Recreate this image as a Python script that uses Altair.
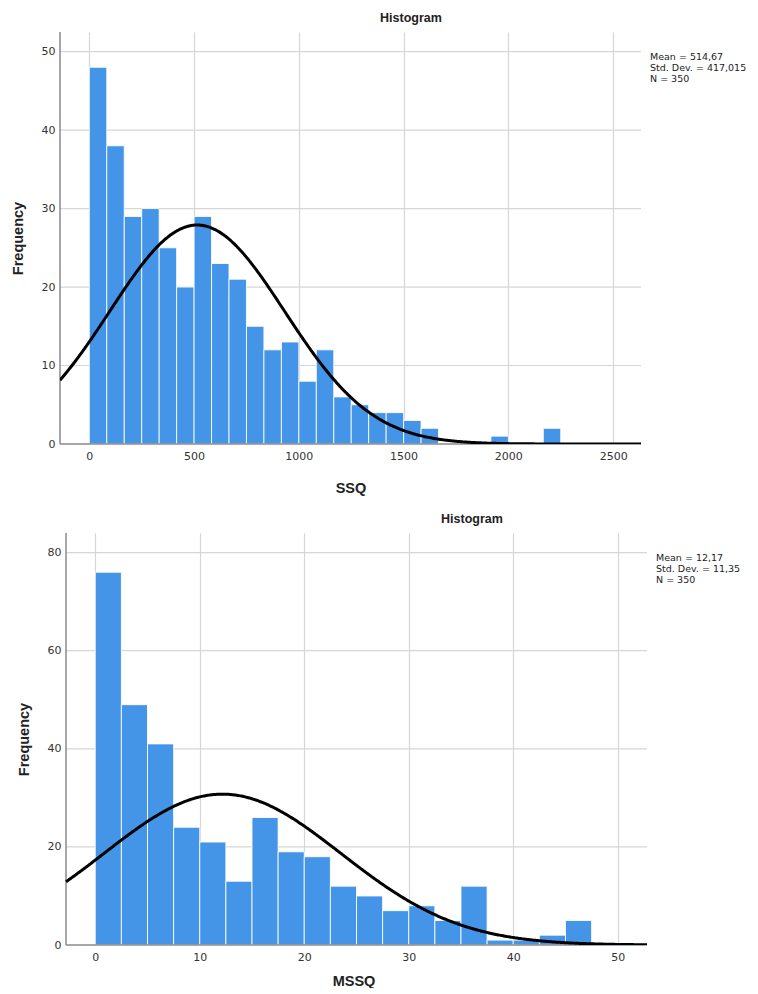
import altair as alt
import pandas as pd

# ---- SSQ histogram (top) ----
ssq_counts = [48, 38, 29, 30, 25, 20, 29, 23, 21, 15, 12, 13, 8, 12, 6, 5, 4, 4, 3, 2,
              0, 0, 0, 1, 0, 0, 2]
ssq_bin_width = 250 / 3
ssq_mean = 514.67
ssq_sd = 417.015
ssq_n = 350
ssq_x_domain = [-140, 2633]
ssq_y_domain = [0, 52.5]
ssq_x_ticks = [0, 500, 1000, 1500, 2000, 2500]
ssq_y_ticks = [0, 10, 20, 30, 40, 50]
ssq_stats = "Mean = 514,67\nStd. Dev. = 417,015\nN = 350"

# ---- MSSQ histogram (bottom) ----
mssq_counts = [76, 49, 41, 24, 21, 13, 26, 19, 18, 12, 10, 7, 8, 5, 12, 1, 1, 2, 5]
mssq_bin_width = 2.5
mssq_mean = 12.17
mssq_sd = 11.35
mssq_n = 350
mssq_x_domain = [-2.8, 52.8]
mssq_y_domain = [0, 84]
mssq_x_ticks = [0, 10, 20, 30, 40, 50]
mssq_y_ticks = [0, 20, 40, 60, 80]
mssq_stats = "Mean = 12,17\nStd. Dev. = 11,35\nN = 350"

BLUE = "#4495E8"
FONT = "DejaVu Sans"
TFONT = "Liberation Sans"
AXIS_C = "#8a8a8a"
GRID_C = "#d6d6d6"
W, H = 581, 412


def panel(counts, bw, mean, sd, n, xdom, ydom, xticks, yticks, xtitle, stats,
          title_x, xtitle_pad, shift):
    df = pd.DataFrame({"start": [i * bw for i in range(len(counts))], "count": counts})
    df["end"] = df["start"] + bw
    df = df[df["count"] > 0]

    # plot area is widened on the left by `shift` pixels, axis drawn at xdom[0]
    units_per_px = (xdom[1] - xdom[0]) / W
    xs = alt.Scale(domain=[xdom[0] - shift * units_per_px, xdom[1]], nice=False, zero=False)
    ys = alt.Scale(domain=ydom, nice=False)
    xax = alt.Axis(values=xticks, title=xtitle, grid=True, domain=False, labelPadding=6,
                   titlePadding=xtitle_pad, format="d")
    yax = alt.Axis(values=yticks, title="Frequency", grid=False, domain=False,
                   labelPadding=5, titlePadding=16, offset=-shift, format="d")

    grid_df = pd.DataFrame({"t": [t for t in yticks if t > 0]})
    grid_df["x0"] = xdom[0]
    grid_df["x1"] = xdom[1]
    hgrid = alt.Chart(grid_df).mark_rule(color=GRID_C, strokeWidth=1.2).encode(
        y=alt.Y("t:Q", scale=ys, axis=yax),
        x=alt.X("x0:Q", scale=xs, axis=xax),
        x2="x1:Q",
    )

    bars = alt.Chart(df).mark_rect(color=BLUE, stroke="#ffffff", strokeWidth=1,
                                   strokeOpacity=0.85).encode(
        x=alt.X("start:Q", scale=xs),
        x2="end:Q",
        y=alt.Y("count:Q", scale=ys),
        y2=alt.datum(0),
    )

    ax_df = pd.DataFrame({"x0": [xdom[0], xdom[0]], "x1": [xdom[0], xdom[1]],
                          "y0": [ydom[0], ydom[0]], "y1": [ydom[1], ydom[0]]})
    axes = alt.Chart(ax_df).mark_rule(color=AXIS_C, strokeWidth=1.5).encode(
        x=alt.X("x0:Q", scale=xs), x2="x1:Q",
        y=alt.Y("y0:Q", scale=ys), y2="y1:Q",
    )

    step = (xdom[1] - xdom[0]) / 500
    curve = alt.Chart(alt.sequence(xdom[0], xdom[1] + step, step, as_="v")).transform_calculate(
        f=f"{n} * {bw} * densityNormal(datum.v, {mean}, {sd})"
    ).mark_line(color="black", strokeWidth=3, clip=True).encode(
        x=alt.X("v:Q", scale=xs),
        y=alt.Y("f:Q", scale=ys),
    )

    one = pd.DataFrame({"a": [0]})
    title = alt.Chart(one).mark_text(font=TFONT, fontSize=12.5, fontWeight="bold",
                                     color="#222222", baseline="bottom", align="center").encode(
        x=alt.value(title_x), y=alt.value(-7), text=alt.value("Histogram"))
    stat = alt.Chart(one).mark_text(font=FONT, fontSize=9.5, color="#222222",
                                    baseline="top", align="left", lineBreak="\n",
                                    lineHeight=11).encode(
        x=alt.value(590 + shift), y=alt.value(20), text=alt.value(stats))

    return alt.layer(hgrid, bars, axes, curve, title, stat).properties(width=W + shift, height=H)


top = panel(ssq_counts, ssq_bin_width, ssq_mean, ssq_sd, ssq_n, ssq_x_domain, ssq_y_domain,
            ssq_x_ticks, ssq_y_ticks, "SSQ", ssq_stats, 351, 20, 0)
bottom = panel(mssq_counts, mssq_bin_width, mssq_mean, mssq_sd, mssq_n, mssq_x_domain,
               mssq_y_domain, mssq_x_ticks, mssq_y_ticks, "MSSQ", mssq_stats, 412, 12, 6)

chart = alt.vconcat(top, bottom, spacing=18).properties(
    padding={"left": 2, "top": 4, "right": 0, "bottom": 0}
).configure_view(stroke=None).configure_axis(
    labelFont=FONT, labelFontSize=11, labelColor="#333333",
    titleFont=TFONT, titleFontSize=14.5, titleFontWeight="bold", titleColor="#222222",
    ticks=False, gridColor=GRID_C, gridWidth=1.2,
)

chart.save("out.html", embed_options={"renderer": "svg", "actions": False})
